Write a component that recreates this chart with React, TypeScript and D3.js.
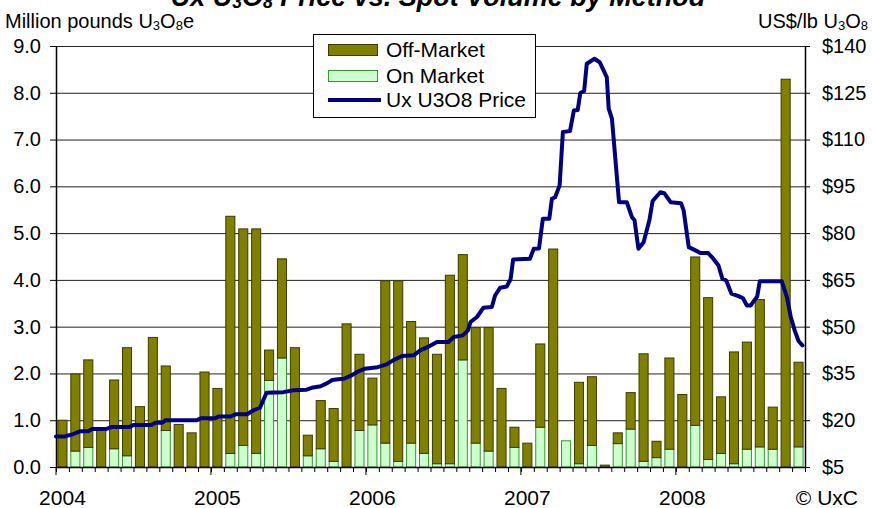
import React, { useEffect, useRef } from 'react';
import * as d3 from 'd3';

// monthly spot volume, million lb U3O8e, Jan 2004 .. Oct 2008
const months = d3.range(58).map(i => new Date(2004, i, 1));
const totalVolume = [
  1.00, 1.99, 2.29, 0.78, 1.86, 2.55, 1.29, 2.77, 2.16, 0.91, 0.73, 2.03,
  1.68, 5.36, 5.09, 5.09, 2.50, 4.45, 2.55, 0.68, 1.42, 1.25, 3.06, 2.41,
  1.90, 3.98, 3.98, 3.11, 2.76, 2.41, 4.10, 4.54, 2.98, 2.98, 1.68, 0.85,
  0.51, 2.63, 4.66, 0.56, 1.81, 1.93, 0.04, 0.73, 1.59, 2.42, 0.55, 2.33,
  1.55, 4.49, 3.62, 1.50, 2.46, 2.67, 3.58, 1.28, 8.29, 2.24,
];
const onMarket = [
  0.00, 0.34, 0.42, 0.00, 0.39, 0.24, 0.00, 0.00, 0.78, 0.00, 0.00, 0.00,
  0.00, 0.29, 0.46, 0.29, 1.85, 2.33, 0.00, 0.24, 0.39, 0.12, 0.00, 0.78,
  0.90, 0.51, 0.12, 0.51, 0.29, 0.07, 0.07, 2.29, 0.51, 0.34, 0.00, 0.42,
  0.00, 0.85, 0.00, 0.56, 0.07, 0.46, 0.00, 0.50, 0.81, 0.12, 0.20, 0.38,
  0.00, 0.89, 0.16, 0.29, 0.07, 0.38, 0.43, 0.38, 0.00, 0.43,
];
const offMarket = totalVolume.map((t, i) => +(t - onMarket[i]).toFixed(2));

// Ux U3O8 price: months since Jan 2004, US$/lb
const priceAt = [
  0.0, 0.7, 1.3, 1.9, 2.5, 2.8, 3.9, 4.3, 5.7, 6.0, 7.4, 7.7, 8.2, 8.5, 10.9, 11.2,
  12.3, 12.6, 13.5, 13.9, 14.8, 15.3, 15.8, 16.3, 17.6, 18.4, 19.4, 19.8, 20.5, 21.0,
  21.4, 22.0, 22.3, 22.8, 23.3, 23.9, 24.9, 25.6, 26.1, 26.8, 27.7, 28.2, 28.8, 29.5,
  30.4, 30.8, 31.5, 31.9, 32.1, 32.6, 33.1, 33.75, 34.0, 34.4, 34.9, 35.2, 35.4, 36.7,
  37.0, 37.4, 37.7, 38.2, 38.4, 38.65, 39.0, 39.25, 39.8, 40.1, 40.4, 40.6, 40.9, 41.1,
  41.7, 42.1, 42.65, 42.8, 43.05, 43.6, 44.2, 44.6, 44.8, 45.1, 45.5, 45.95, 46.2, 46.8,
  47.1, 47.6, 48.4, 48.6, 49.0, 49.4, 49.9, 50.5, 50.9, 51.3, 51.6, 51.9, 52.3, 52.9,
  53.2, 53.5, 53.8, 54.3, 54.5, 56.2, 56.6, 56.9, 57.2, 57.5, 57.8,
];
const priceUsd = [
  14.8, 14.8, 15.5, 16.5, 16.5, 17.2, 17.2, 17.8, 17.8, 18.5, 18.5, 19.2, 19.2, 20.0, 20.0, 20.6,
  20.6, 21.2, 21.2, 21.9, 21.9, 23.2, 24.0, 28.8, 29.0, 29.6, 29.8, 30.4, 30.9, 31.9,
  32.9, 33.2, 33.3, 34.2, 35.4, 36.5, 37.0, 37.9, 39.2, 40.6, 40.8, 42.4, 43.5, 45.1,
  45.1, 46.7, 47.2, 48.8, 51.5, 53.1, 56.1, 56.3, 60.0, 62.5, 62.9, 65.2, 71.5, 71.8,
  75.0, 75.1, 84.6, 84.6, 91.0, 91.5, 95.3, 112.4, 112.7, 119.3, 119.5, 124.9, 125.6, 134.3,
  135.9, 134.8, 130.0, 119.9, 116.7, 89.9, 89.9, 85.1, 84.1, 75.0, 77.1, 84.1, 90.3, 93.1,
  92.8, 89.9, 89.6, 87.3, 75.5, 74.7, 73.6, 73.6, 71.8, 69.6, 65.4, 64.8, 60.6, 59.7,
  59.1, 56.8, 56.8, 59.7, 64.6, 64.6, 59.5, 53.1, 48.8, 45.4, 44.0,
];

const volumeTicks = d3.range(0, 9.01, 1);
const priceTicks = d3.range(5, 141, 15);
const years = [2004, 2005, 2006, 2007, 2008];

const FONT = 'Arial, "Liberation Sans", sans-serif';

const App: React.FC = () => {
  const svgRef = useRef<SVGSVGElement>(null);

  useEffect(() => {
    const svg = d3.select(svgRef.current);
    svg.selectAll('*').remove();

    const left = 56, right = 805, top = 46, bottom = 467;

    const x = d3.scaleBand<number>()
      .domain(months.map((_, i) => i))
      .range([left, right])
      .paddingInner(0.22)
      .paddingOuter(0.11);
    const xt = d3.scaleLinear().domain([0, months.length]).range([left, right]);
    const yL = d3.scaleLinear().domain([0, 9]).range([bottom, top]);
    const yR = d3.scaleLinear().domain([5, 140]).range([bottom, top]);

    const g = svg.append('g').style('font-family', FONT);

    // gridlines
    g.append('g')
      .selectAll('line')
      .data(volumeTicks.filter(v => v > 0))
      .enter()
      .append('line')
      .attr('x1', left)
      .attr('x2', right)
      .attr('y1', d => yL(d) + 0.5)
      .attr('y2', d => yL(d) + 0.5)
      .attr('stroke', '#222')
      .attr('stroke-width', 1);

    // stacked bars
    const table = months.map((_, i) => ({ i, on: onMarket[i], off: offMarket[i] }));
    const series = d3.stack<any>().keys(['on', 'off'])(table);
    const fills: Record<string, string> = { on: '#ccffcc', off: '#808000' };
    const strokes: Record<string, string> = { on: '#2e9a2e', off: '#3a3a00' };

    series.forEach(s => {
      g.append('g')
        .selectAll('rect')
        .data(s.filter(d => d[1] - d[0] > 0))
        .enter()
        .append('rect')
        .attr('x', (d: any) => (x(d.data.i) || 0) + 0.5)
        .attr('y', d => yL(d[1]))
        .attr('width', x.bandwidth() - 1)
        .attr('height', d => yL(d[0]) - yL(d[1]))
        .attr('fill', fills[s.key])
        .attr('stroke', strokes[s.key])
        .attr('stroke-width', 1);
    });

    // axes
    const axisL = g.append('g')
      .attr('transform', `translate(${left},0)`)
      .call(d3.axisLeft(yL).tickValues(volumeTicks).tickFormat(d3.format('.1f')).tickSize(6).tickSizeOuter(0).tickPadding(9));
    const axisR = g.append('g')
      .attr('transform', `translate(${right},0)`)
      .call(d3.axisRight(yR).tickValues(priceTicks).tickFormat((d: any) => `$${d}`).tickSize(5).tickSizeOuter(0).tickPadding(12));
    const axisB = g.append('g')
      .attr('transform', `translate(0,${bottom})`)
      .call(d3.axisBottom(xt).tickValues(d3.range(0, months.length + 1)).tickFormat(() => '').tickSize(5).tickSizeOuter(0));

    [axisL, axisR, axisB].forEach(a => {
      a.selectAll('path').attr('stroke', '#000').attr('stroke-width', 1.5);
      a.selectAll('line').attr('stroke', '#000');
      a.selectAll('text')
        .style('font-family', FONT)
        .style('font-size', '20px')
        .attr('fill', '#000');
    });

    // year ticks and labels
    g.append('g')
      .selectAll('line')
      .data(years.map((_, k) => k * 12))
      .enter()
      .append('line')
      .attr('x1', d => xt(d))
      .attr('x2', d => xt(d))
      .attr('y1', bottom)
      .attr('y2', bottom + 8)
      .attr('stroke', '#000');

    g.append('g')
      .selectAll('text')
      .data(years)
      .enter()
      .append('text')
      .attr('x', (_, k) => (x(k * 12) || 0) + x.bandwidth() / 2)
      .attr('y', 505)
      .attr('text-anchor', 'middle')
      .style('font-size', '21px')
      .text(d => d);

    // price line
    const line = d3.line<number>()
      .x(d => xt(priceAt[d]))
      .y(d => yR(priceUsd[d]));
    g.append('path')
      .attr('d', line(d3.range(priceAt.length)))
      .attr('fill', 'none')
      .attr('stroke', '#000080')
      .attr('stroke-width', 4)
      .attr('stroke-linejoin', 'round')
      .attr('stroke-linecap', 'round');

    // titles
    const subText = (sel: any, parts: [string, boolean][]) => {
      parts.forEach(([t, sub]) => {
        const ts = sel.append('tspan').text(t);
        if (sub) ts.style('font-size', '0.65em').attr('dy', 2);
        else ts.attr('dy', sel.selectAll('tspan').size() > 1 ? -2 : 0);
      });
    };

    const title = g.append('text')
      .attr('x', 438)
      .attr('y', 6)
      .attr('text-anchor', 'middle')
      .style('font-size', '27px')
      .style('font-weight', 'bold')
      .style('font-style', 'italic');
    subText(title, [['Ux U', false], ['3', true], ['O', false], ['8', true], [' Price vs. Spot Volume by Method', false]]);

    const lTitle = g.append('text')
      .attr('x', 5)
      .attr('y', 28)
      .style('font-size', '20px');
    subText(lTitle, [['Million pounds U', false], ['3', true], ['O', false], ['8', true], ['e', false]]);

    const rTitle = g.append('text')
      .attr('x', 868)
      .attr('y', 28)
      .attr('text-anchor', 'end')
      .style('font-size', '20px');
    subText(rTitle, [['US$/lb U', false], ['3', true], ['O', false], ['8', true]]);

    g.append('text')
      .attr('x', 858)
      .attr('y', 505)
      .attr('text-anchor', 'end')
      .style('font-size', '21px')
      .text('\u00a9 UxC');

    // legend
    const legend = g.append('g');
    legend.append('rect')
      .attr('x', 313.5)
      .attr('y', 34.5)
      .attr('width', 222)
      .attr('height', 83)
      .attr('fill', '#fff')
      .attr('stroke', '#000');

    const legendItems = [
      { label: 'Off-Market', key: 'off', y: 50 },
      { label: 'On Market', key: 'on', y: 76 },
      { label: 'Ux U3O8 Price', key: 'line', y: 100 },
    ];
    legendItems.forEach(item => {
      if (item.key === 'line') {
        legend.append('line')
          .attr('x1', 328)
          .attr('x2', 381)
          .attr('y1', item.y)
          .attr('y2', item.y)
          .attr('stroke', '#000080')
          .attr('stroke-width', 4);
      } else {
        legend.append('rect')
          .attr('x', 328.5)
          .attr('y', item.y - 5.5)
          .attr('width', 49)
          .attr('height', 11)
          .attr('fill', fills[item.key])
          .attr('stroke', strokes[item.key]);
      }
      legend.append('text')
        .attr('x', 386)
        .attr('y', item.y + 7)
        .style('font-size', '21px')
        .text(item.label);
    });
  }, []);

  return (
    <svg
      ref={svgRef}
      width={872}
      height={508}
      style={{ position: 'absolute', left: 0, top: 0, background: '#fff' }}
    />
  );
};

export default App;
